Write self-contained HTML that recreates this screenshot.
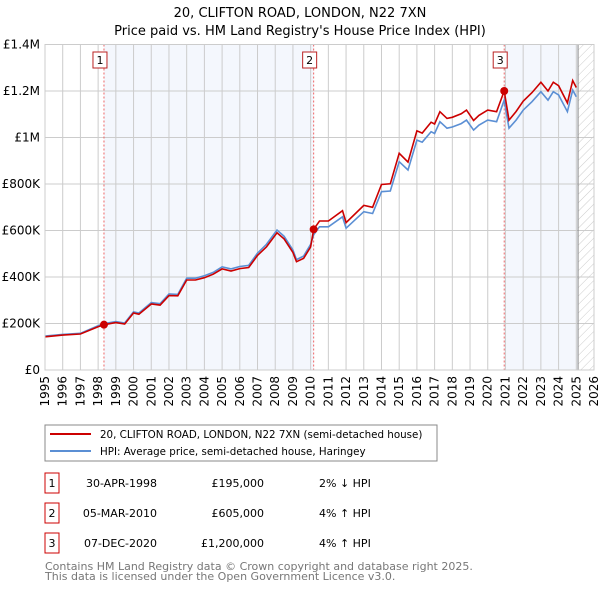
<!DOCTYPE html>
<html><head><meta charset="utf-8"><style>
body{margin:0;background:#fff;font-family:"Liberation Sans","DejaVu Sans",sans-serif;}
svg text{font-family:"DejaVu Sans","Liberation Sans",sans-serif;}
</style></head><body>
<svg id="chart" width="600" height="590" xmlns="http://www.w3.org/2000/svg">
<defs><pattern id="hatch" width="6" height="6" patternUnits="userSpaceOnUse" patternTransform="rotate(45)"><line x1="0" y1="0" x2="0" y2="6" stroke="#ccc" stroke-width="1"/></pattern></defs>
<text x="300" y="17" text-anchor="middle" font-size="13">20, CLIFTON ROAD, LONDON, N22 7XN</text>
<text x="300" y="35" text-anchor="middle" font-size="13">Price paid vs. HM Land Registry's House Price Index (HPI)</text>
<g id="plot"></g>
<g>
<rect x="45" y="425" width="392" height="36" fill="#fff" stroke="#888"/>
<line x1="50" y1="434" x2="91" y2="434" stroke="#cc0000" stroke-width="2"/>
<text x="100" y="438" font-size="10.3">20, CLIFTON ROAD, LONDON, N22 7XN (semi-detached house)</text>
<line x1="50" y1="451" x2="91" y2="451" stroke="#5b8fd4" stroke-width="2"/>
<text x="100" y="455" font-size="10.3">HPI: Average price, semi-detached house, Haringey</text>
</g>
<g id="table" font-size="11"></g>
<text x="45" y="570" font-size="11" fill="#777">Contains HM Land Registry data © Crown copyright and database right 2025.</text>
<text x="45" y="580" font-size="11" fill="#777">This data is licensed under the Open Government Licence v3.0.</text>
</svg>
<script>
const times=[1995,1996,1997,1998,1998.33,1999,1999.5,2000,2000.3,2001,2001.5,2002,2002.5,2003,2003.5,2004,2004.5,2005,2005.5,2006,2006.5,2007,2007.5,2008.1,2008.5,2009,2009.2,2009.6,2010,2010.17,2010.5,2011,2011.8,2012,2013,2013.5,2014,2014.5,2015,2015.5,2016,2016.3,2016.8,2017,2017.3,2017.7,2018,2018.5,2018.8,2019.2,2019.5,2020,2020.5,2020.93,2021.2,2021.6,2022,2022.5,2023,2023.4,2023.7,2024,2024.5,2024.8,2025];
const hpiValues=[146,153,158,190,199,208,202,250,245,290,285,327,325,395,395,405,420,444,435,445,450,503,540,602,575,516,475,490,540,582,616,616,659,610,681,673,767,770,896,860,989,980,1025,1017,1068,1040,1045,1060,1075,1032,1053,1075,1068,1161,1040,1075,1118,1154,1197,1161,1197,1183,1111,1204,1175];
const priceValues=[143,150,155,186,195,204,198,245,240,284,279,320,319,387,387,397,412,435,426,436,441,493,529,590,564,506,466,480,529,605,641,641,685,634,708,700,798,801,932,894,1029,1019,1066,1058,1111,1082,1087,1102,1118,1073,1095,1118,1111,1200,1075,1112,1156,1193,1238,1200,1238,1223,1149,1245,1215];
const saleTimes=[1998.33,2010.17,2020.93];
const salePrices=[195,605,1200];
const saleDates=["30-APR-1998","05-MAR-2010","07-DEC-2020"];
const saleLabels=["£195,000","£605,000","£1,200,000"];
const saleHpi=["2% ↓ HPI","4% ↑ HPI","4% ↑ HPI"];
const yTicks=[0,200,400,600,800,1000,1200,1400];
const yTickLabels=["£0","£200K","£400K","£600K","£800K","£1M","£1.2M","£1.4M"];
const xYears=[1995,1996,1997,1998,1999,2000,2001,2002,2003,2004,2005,2006,2007,2008,2009,2010,2011,2012,2013,2014,2015,2016,2017,2018,2019,2020,2021,2022,2023,2024,2025,2026];
const dataEnd=2025.1;

const X0=45,X1=594,Y0=370,Y1=44.5;
const xs=t=>X0+(t-1995)/(2026-1995)*(X1-X0);
const ys=v=>Y0-v/1400*(Y0-Y1);
const NS="http://www.w3.org/2000/svg";
const plot=document.getElementById('plot');
function mk(tag,attrs,parent){const e=document.createElementNS(NS,tag);for(const k in attrs)e.setAttribute(k,attrs[k]);(parent||plot).appendChild(e);return e;}

let r=mk('rect',{x:X0,y:Y1,width:X1-X0,height:Y0-Y1,fill:'#fff'});


r=mk('rect',{x:xs(saleTimes[0]),y:Y1,width:xs(saleTimes[1])-xs(saleTimes[0]),height:Y0-Y1,fill:'#f4f7fd'});


r=mk('rect',{x:xs(saleTimes[2]),y:Y1,width:xs(dataEnd)-xs(saleTimes[2]),height:Y0-Y1,fill:'#f4f7fd'});


r=mk('rect',{x:xs(dataEnd),y:Y1,width:X1-xs(dataEnd),height:Y0-Y1,fill:'url(#hatch)'});



xYears.forEach(y=>{
  let l=mk('line',{x1:xs(y),x2:xs(y),y1:Y1,y2:Y0,stroke:'#ccc','stroke-width':1});
  
  
  let t=mk('text',{x:0,y:0,'font-size':12,'text-anchor':'end',transform:`translate(${xs(y)+4},${Y0+6}) rotate(-90)`});
  t.textContent=y;
  
  
});
yTicks.forEach((v,i)=>{
  let l=mk('line',{x1:X0,x2:X1,y1:ys(v),y2:ys(v),stroke:'#ccc','stroke-width':1});
  
  
  let t=mk('text',{x:40,y:ys(v)+4,'font-size':12,'text-anchor':'end'});
  t.textContent=yTickLabels[i];
  
  
});
let dl=mk('line',{x1:xs(dataEnd),x2:xs(dataEnd),y1:Y1,y2:Y0,stroke:'#888','stroke-width':1});



saleTimes.forEach((t,i)=>{
  let l=mk('line',{x1:xs(t),x2:xs(t),y1:Y1,y2:Y0,stroke:'#e66','stroke-width':1,'stroke-dasharray':'2,2'});
  
  
  let b=mk('rect',{x:xs(t)-11,y:52,width:14,height:16,fill:'#fff',stroke:'#b22'});
  
  
  let tx=mk('text',{x:xs(t)-4,y:64,'font-size':11,'text-anchor':'middle'});
  tx.textContent=i+1;
  
  
});

const pts=v=>times.map((t,i)=>xs(t).toFixed(1)+','+ys(v[i]).toFixed(1)).join(' ');
let hl=mk('polyline',{points:pts(hpiValues),fill:'none',stroke:'#5b8fd4','stroke-width':1.6});


let pl=mk('polyline',{points:pts(priceValues),fill:'none',stroke:'#cc0000','stroke-width':1.6});


saleTimes.forEach((t,i)=>{
  let c=mk('circle',{cx:xs(t),cy:ys(salePrices[i]),r:4,fill:'#cc0000'});
  
  
});
let ax=mk('rect',{x:X0,y:Y1,width:X1-X0,height:Y0-Y1,fill:'none',stroke:'#ccc'});



const tbl=document.getElementById('table');
saleDates.forEach((d,i)=>{
  const y=483+i*30;
  let b=mk('rect',{x:45,y:y-10,width:14,height:20,fill:'#fff',stroke:'#cc0000'},tbl);
  
  
  let n=mk('text',{x:52,y:y+4,'text-anchor':'middle'},tbl);n.textContent=i+1;
  
  
  let a=mk('text',{x:157,y:y+4,'text-anchor':'end'},tbl);a.textContent=d;
  
  
  let p=mk('text',{x:264,y:y+4,'text-anchor':'end'},tbl);p.textContent=saleLabels[i];
  
  
  let h=mk('text',{x:319,y:y+4},tbl);h.textContent=saleHpi[i];
  
  
});
</script>
</body></html>
